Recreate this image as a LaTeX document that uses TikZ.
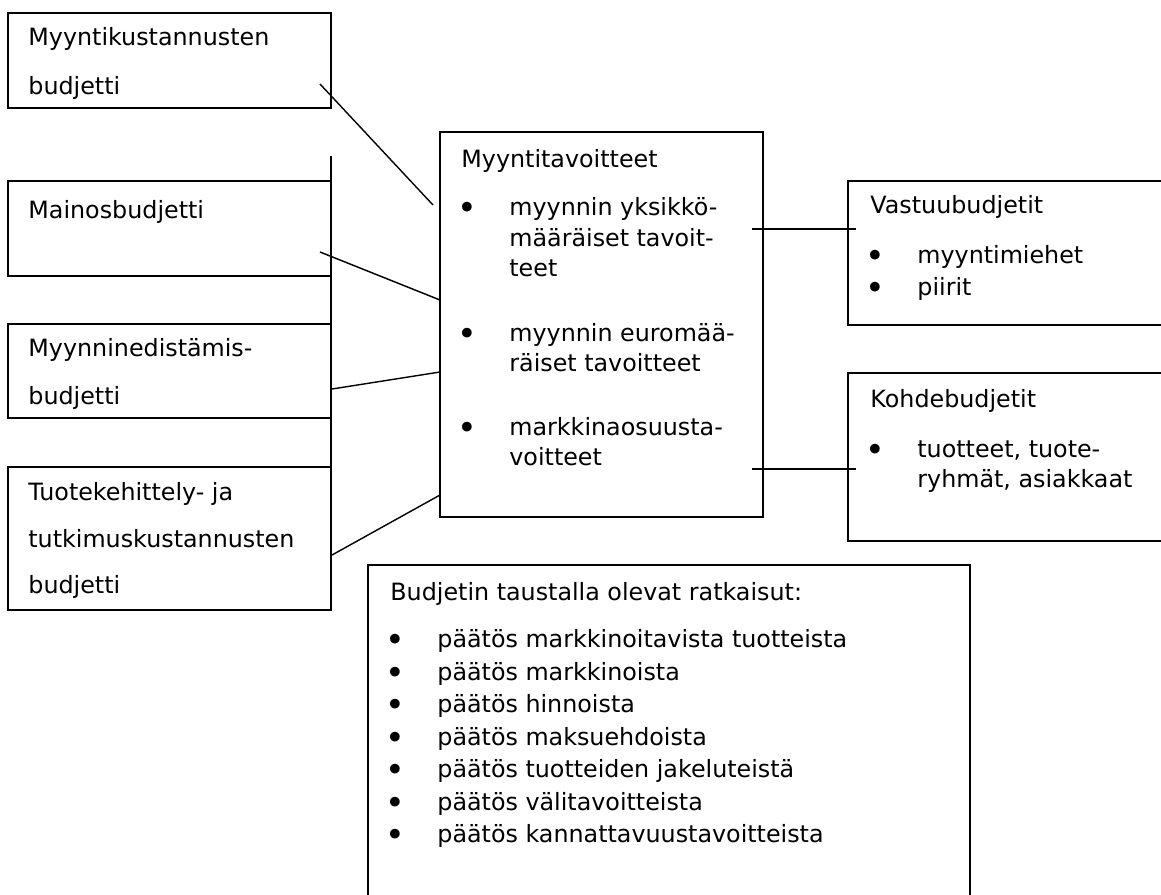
\documentclass[tikz,border=0pt]{standalone}
\usepackage{fontspec}
\setmainfont{DejaVu Sans}
\usetikzlibrary{positioning}
\tikzset{box/.style={draw, line width=1pt, inner sep=0pt, outer sep=0pt, anchor=north west},
  txt/.style={anchor=base west, inner sep=0pt},
  link/.style={line width=0.7pt}}
\newcommand{\bulletmark}{\hbox to 26pt{\raisebox{-2.2pt}{\scalebox{1.4}{\textbullet}}\hfil}}

\begin{document}
\begin{tikzpicture}[x=0.5pt, y=-0.5pt, font=\fontsize{11.9}{14}\selectfont]
			\useasboundingbox (0,0) rectangle (1161,894);
			\fill[white] (0,0) rectangle (1161,894);
			\clip (0,0) rectangle (1161,894);
			\node (kust) at (8,13) [box, minimum width=161.5pt, minimum height=47.5pt] {};
			\node (mainos) at (8,181) [box, minimum width=161.5pt, minimum height=47.5pt] {};
			\node (edist) at (8,324) [box, minimum width=161.5pt, minimum height=47pt] {};
			\node (tutk) at (8,467) [box, minimum width=161.5pt, minimum height=71.5pt] {};
			\node (tav) at (440,132) [box, minimum width=161.5pt, minimum height=192.5pt] {};
			\node (vastuu) at (848,181) [box, minimum width=165pt, minimum height=72pt] {};
			\node (kohde) at (848,373) [box, minimum width=165pt, minimum height=84pt] {};
			\node (ratk) at (368,565) [box, minimum width=301pt, minimum height=172.5pt] {};
			\node (kust1) at (28,46) [txt] {Myyntikustannusten};
			\node (kust2) at (28,94) [txt] {budjetti};
			\node (mainos1) at (28,218) [txt] {Mainosbudjetti};
			\node (edist1) at (28,356) [txt] {Myynninedistämis-};
			\node (edist2) at (28,404) [txt] {budjetti};
			\node (tutk1) at (28,500) [txt] {Tuotekehittely- ja};
			\node (tutk2) at (28,547) [txt] {tutkimuskustannusten};
			\node (tutk3) at (28,593) [txt] {budjetti};
			\node (tav0) at (461,167) [txt] {Myyntitavoitteet};
			\node (tav1) at (457,215) [txt] {\bulletmark myynnin yksikkö-};
			\node (tav2) at (509,246) [txt] {määräiset tavoit-};
			\node (tav3) at (509,276) [txt] {teet};
			\node (tav4) at (457,341) [txt] {\bulletmark myynnin euromää-};
			\node (tav5) at (509,371) [txt] {räiset tavoitteet};
			\node (tav6) at (457,435) [txt] {\bulletmark markkinaosuusta-};
			\node (tav7) at (509,465) [txt] {voitteet};
			\node (vastuu0) at (870,213) [txt] {Vastuubudjetit};
			\node (vastuu1) at (865,263) [txt] {\bulletmark myyntimiehet};
			\node (vastuu2) at (865,295) [txt] {\bulletmark piirit};
			\node (kohde0) at (870,407) [txt] {Kohdebudjetit};
			\node (kohde1) at (865,457) [txt] {\bulletmark tuotteet, tuote-};
			\node (kohde2) at (917,487) [txt] {ryhmät, asiakkaat};
			\node (ratk0) at (390,600) [txt] {Budjetin taustalla olevat ratkaisut:};
			\node (ratk1) at (385,647) [txt] {\bulletmark päätös markkinoitavista tuotteista};
			\node (ratk2) at (385,680) [txt] {\bulletmark päätös markkinoista};
			\node (ratk3) at (385,712) [txt] {\bulletmark päätös hinnoista};
			\node (ratk4) at (385,745) [txt] {\bulletmark päätös maksuehdoista};
			\node (ratk5) at (385,777) [txt] {\bulletmark päätös tuotteiden jakeluteistä};
			\node (ratk6) at (385,810) [txt] {\bulletmark päätös välitavoitteista};
			\node (ratk7) at (385,842) [txt] {\bulletmark päätös kannattavuustavoitteista};
			\coordinate (pole) at (331,156);
			\coordinate (kustE) at (320,84);
			\coordinate (mainosE) at (320,252);
			\coordinate (edistE) at (332,389);
			\coordinate (tutkE) at (332,555);
			\coordinate (tavA) at (433,205);
			\coordinate (tavB) at (440,300);
			\coordinate (tavC) at (440,372);
			\coordinate (tavD) at (440,495);
			\coordinate (tavE) at (752,229);
			\coordinate (tavF) at (752,469);
			\coordinate (vastuuW) at (856,229);
			\coordinate (kohdeW) at (856,469);
			\draw[link, line width=1pt] (pole) -- (tutk.north east);
			\draw[link] (kustE) -- (tavA);
			\draw[link] (mainosE) -- (tavB);
			\draw[link] (edistE) -- (tavC);
			\draw[link] (tutkE) -- (tavD);
			\draw[link] (tavE) -- (vastuuW);
			\draw[link] (tavF) -- (kohdeW);
			\end{tikzpicture}
\end{document}
